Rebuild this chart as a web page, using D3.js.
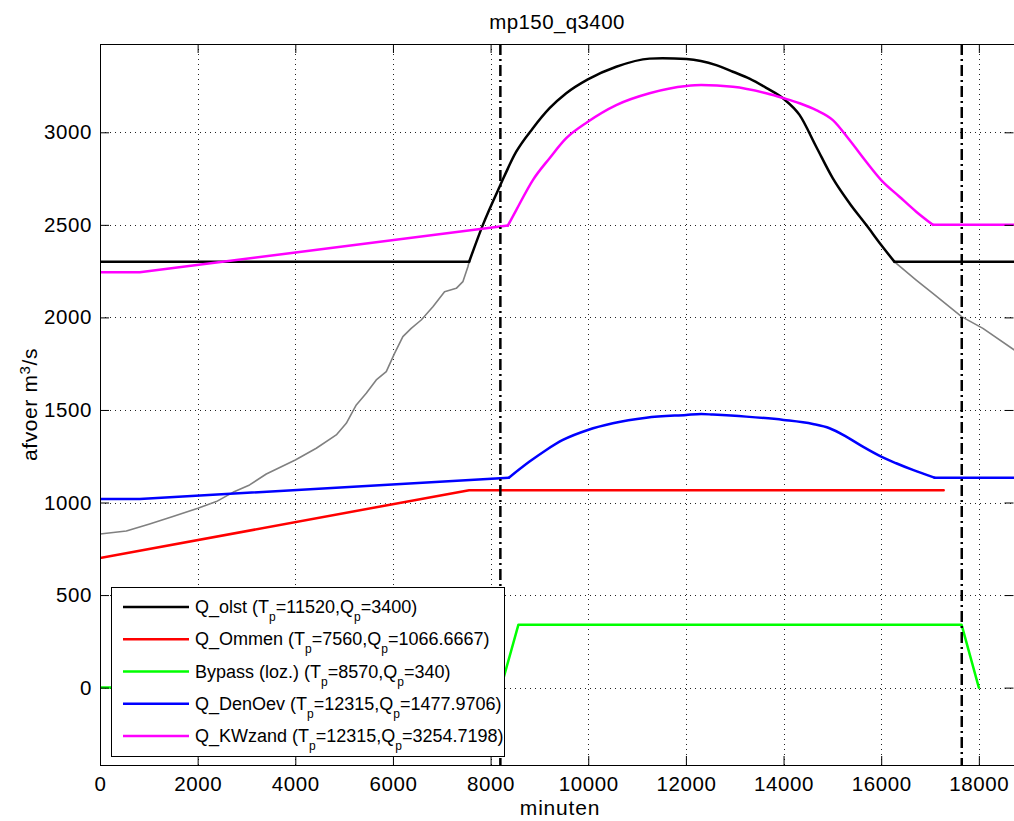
<!DOCTYPE html>
<html>
  <head>
    <meta charset="utf-8">
    <title>mp150_q3400</title>
    <script type="text/javascript" src="https://d3js.org/d3.v7.min.js"></script>
    <style media="screen">
      body { margin: 0; background: #fff; }
      text { font-family: Arial, "Liberation Sans", Helvetica, sans-serif; }
    </style>
  </head>
  <body>

    <div class="vis"></div>

    <script type="text/javascript">

      // --- data (minuten, m3/s) ---
      var xTicks = [0, 2000, 4000, 6000, 8000, 10000, 12000, 14000, 16000, 18000];
      var yTicks = [0, 500, 1000, 1500, 2000, 2500, 3000];

      var qOlst = [[0,2300],[7560,2300],[7842,2500],[8184,2706],[8525,2895],[8866,3022],[9208,3130],
        [9549,3211],[9992,3286],[10573,3354],[11255,3398],[11520,3400],[12013,3396],[12621,3363],
        [12962,3327],[13303,3290],[13645,3240],[14006,3180],[14327,3094],[14669,2922],[15010,2751],
        [15351,2617],[15693,2500],[16000,2391],[16273,2300],[18720,2300]];

      // unclipped hydrograph (grey), visible before and after the plateau
      var hydroRise = [[0,830],[539,846],[1016,884],[1493,924],[2005,969],[2382,1005],[2723,1055],
        [3064,1095],[3406,1154],[4000,1230],[4430,1293],[4839,1365],[5044,1428],[5249,1527],
        [5453,1590],[5658,1662],[5863,1707],[6033,1806],[6203,1896],[6374,1941],[6579,1986],
        [6818,2058],[7057,2139],[7297,2157],[7432,2193],[7535,2274],[7560,2300]];
      var hydroFall = [[16273,2300],[16717,2202],[17058,2130],[17646,2004],[18083,1941],[18720,1825]];

      var qOmmen = [[0,700],[7560,1066.67],[17280,1066.67]];

      var bypass = [[0,0],[8210,0],[8570,340],[17646,340],[18000,0]];

      var qDenOev = [[0,1019],[814,1019],[8374,1134],[8798,1221],[9140,1284],[9480,1338],[9992,1392],
        [10504,1428],[11188,1458],[12006,1473],[12315,1478],[12551,1475],[13235,1464],[14000,1446],
        [14600,1424],[14942,1401],[15283,1356],[15624,1302],[16000,1248],[16307,1212],[16648,1176],
        [17092,1134],[18720,1134]];

      var qKWzand = [[0,2244],[814,2244],[8354,2496],[8525,2580],[8866,2742],[9208,2860],[9549,2968],
        [9992,3057],[10573,3147],[11255,3211],[12013,3250],[12315,3255],[12962,3246],[13645,3211],
        [14006,3184],[14327,3157],[14669,3120],[15010,3066],[15351,2958],[15693,2841],[16000,2742],
        [16375,2652],[16717,2571],[17058,2500],[18720,2500]];

      var markers = [8200, 17650];

      var legendNames = ["Q_olst", "Q_Ommen", "Bypass (loz.)", "Q_DenOev", "Q_KWzand"];
      var legendTp = ["11520", "7560", "8570", "12315", "12315"];
      var legendQp = ["3400", "1066.6667", "340", "1477.9706", "3254.7198"];
      var legendColors = ["#000000", "#ff0000", "#00ff00", "#0000ff", "#ff00ff"];

      // --- layout ---  ("top" is taken on window, so pTop etc.)
      var w = 1014;
      var h = 821;
      var pLeft = 100, pRight = 1014, pTop = 44, pBottom = 765;

      var xscale = d3.scaleLinear().domain([0, 18720]).range([pLeft, pRight]);
      var yscale = d3.scaleLinear().domain([-418, 3477]).range([pBottom, pTop]);

      var svg = d3.select('.vis')
        .append('svg')
        .attr('width', w)
        .attr('height', h);

      svg.append('rect')
        .attr('x', 0).attr('y', 0).attr('width', w).attr('height', h)
        .attr('fill', '#fff');

      svg.append('clipPath').attr('id', 'plotclip')
        .append('rect')
        .attr('x', pLeft).attr('y', pTop)
        .attr('width', pRight - pLeft).attr('height', pBottom - pTop);

      // grid
      var grid = svg.append('g').attr('class', 'grid');
      grid.selectAll('line.gx')
        .data(xTicks.slice(1))
        .enter()
        .append('line')
        .attr('x1', function(d){ return Math.round(xscale(d)) + 0.5; })
        .attr('x2', function(d){ return Math.round(xscale(d)) + 0.5; })
        .attr('y1', pTop).attr('y2', pBottom)
        .attr('stroke', '#222').attr('stroke-width', 1)
        .attr('stroke-dasharray', '1,4');
      grid.selectAll('line.gy')
        .data(yTicks)
        .enter()
        .append('line')
        .attr('y1', function(d){ return Math.round(yscale(d)) + 0.5; })
        .attr('y2', function(d){ return Math.round(yscale(d)) + 0.5; })
        .attr('x1', pLeft).attr('x2', pRight)
        .attr('stroke', '#222').attr('stroke-width', 1)
        .attr('stroke-dasharray', '1,4');

      var line = d3.line()
        .x(function(d){ return xscale(d[0]); })
        .y(function(d){ return yscale(d[1]); });
      var smooth = d3.line()
        .curve(d3.curveMonotoneX)
        .x(function(d){ return xscale(d[0]); })
        .y(function(d){ return yscale(d[1]); });

      var plot = svg.append('g').attr('clip-path', 'url(#plotclip)');

      // straight parts drawn as polylines, the rounded part (from..to) smoothed
      function drawSeries(data, color, width, from, to) {
        var parts = [[data, line]];
        if (from !== undefined) {
          parts = [
            [data.filter(function(d){ return d[0] <= from; }), line],
            [data.filter(function(d){ return d[0] >= from && d[0] <= to; }), smooth],
            [data.filter(function(d){ return d[0] >= to; }), line]
          ];
        }
        parts.forEach(function(p) {
          plot.append('path')
            .datum(p[0])
            .attr('d', p[1])
            .attr('fill', 'none')
            .attr('stroke', color)
            .attr('stroke-width', width)
            .attr('stroke-linejoin', 'round')
            .attr('stroke-linecap', 'round');
        });
      }

      drawSeries(hydroRise, '#808080', 1.6);
      drawSeries(hydroFall, '#808080', 1.6);
      drawSeries(qOlst, '#000000', 2.5, 7560, 16273);
      drawSeries(qOmmen, '#ff0000', 2.5);
      drawSeries(bypass, '#00ff00', 2.5);
      drawSeries(qDenOev, '#0000ff', 2.5, 8374, 17092);
      drawSeries(qKWzand, '#ff00ff', 2.5, 8354, 17058);

      // dash-dot markers
      plot.selectAll('line.mark')
        .data(markers)
        .enter()
        .append('line')
        .attr('x1', function(d){ return xscale(d); })
        .attr('x2', function(d){ return xscale(d); })
        .attr('y1', pTop).attr('y2', pBottom)
        .attr('stroke', '#000')
        .attr('stroke-width', 2.5)
        .attr('stroke-dasharray', '11,4,2,4');

      // axes (matlab style: ticks inside, box all round)
      var tickLen = 9;
      var fmt = d3.format('d');
      var xAxis = d3.axisBottom(xscale).tickValues(xTicks).tickSize(-tickLen).tickPadding(11).tickFormat(fmt);
      var xAxisTop = d3.axisTop(xscale).tickValues(xTicks).tickSize(-tickLen).tickFormat('');
      var yAxis = d3.axisLeft(yscale).tickValues(yTicks).tickSize(-tickLen).tickPadding(8).tickFormat(fmt);
      var yAxisRight = d3.axisRight(yscale).tickValues(yTicks).tickSize(-tickLen).tickFormat('');

      svg.append('g').attr('class', 'x axis')
        .attr('transform', 'translate(0,' + pBottom + ')')
        .call(xAxis);
      svg.append('g').attr('class', 'x axis')
        .attr('transform', 'translate(0,' + pTop + ')')
        .call(xAxisTop);
      svg.append('g').attr('class', 'y axis')
        .attr('transform', 'translate(' + pLeft + ',0)')
        .call(yAxis);
      svg.append('g').attr('class', 'y axis')
        .attr('transform', 'translate(' + (pRight - 0.5) + ',0)')
        .call(yAxisRight);

      svg.selectAll('.axis line').attr('stroke', '#000').attr('stroke-width', 1);
      svg.selectAll('.axis text')
        .attr('fill', '#000')
        .style('font-size', '20.5px')
        .style('letter-spacing', '0.6px')
        .style('font-family', 'Arial, "Liberation Sans", sans-serif');
      svg.selectAll('.axis .domain').remove();

      // frame
      svg.append('rect')
        .attr('x', pLeft + 0.5).attr('y', pTop + 0.5)
        .attr('width', pRight - pLeft).attr('height', pBottom - pTop)
        .attr('fill', 'none').attr('stroke', '#000').attr('stroke-width', 1);

      // labels
      svg.append('text')
        .attr('x', (pLeft + pRight) / 2).attr('y', 29)
        .attr('text-anchor', 'middle')
        .style('font-size', '20.5px')
        .style('letter-spacing', '0.4px')
        .text('mp150_q3400');

      svg.append('text')
        .attr('x', (pLeft + pRight) / 2 + 3).attr('y', 815)
        .attr('text-anchor', 'middle')
        .style('font-size', '21px')
        .style('letter-spacing', '0.8px')
        .text('minuten');

      var ylab = svg.append('text')
        .attr('transform', 'translate(37,' + ((pTop + pBottom) / 2) + ')rotate(-90)')
        .attr('text-anchor', 'middle')
        .style('font-size', '21px')
        .style('letter-spacing', '0.6px');
      ylab.append('tspan').text('afvoer m');
      ylab.append('tspan').attr('baseline-shift', '45%').style('font-size', '15px').text('3');
      ylab.append('tspan').text('/s');

      // legend
      var lx = 111, ly = 587, lw = 393, lh = 169;
      var legend = svg.append('g').attr('class', 'legend');
      legend.append('rect')
        .attr('x', lx + 0.5).attr('y', ly + 0.5)
        .attr('width', lw).attr('height', lh)
        .attr('fill', '#fff').attr('stroke', '#000').attr('stroke-width', 1);

      var rowY = d3.scaleLinear().domain([0, 4]).range([607, 736]);

      legendNames.forEach(function(name, i) {
        var y = rowY(i);
        legend.append('line')
          .attr('x1', 123).attr('x2', 189)
          .attr('y1', y).attr('y2', y)
          .attr('stroke', legendColors[i])
          .attr('stroke-width', 2.5);
        var t = legend.append('text')
          .attr('x', 195).attr('y', y + 6)
          .style('font-size', '18px');
        t.append('tspan').text(name + ' (T');
        t.append('tspan').attr('dy', 8).style('font-size', '12px').text('p');
        t.append('tspan').attr('dy', -8).text('=' + legendTp[i] + ',Q');
        t.append('tspan').attr('dy', 8).style('font-size', '12px').text('p');
        t.append('tspan').attr('dy', -8).text('=' + legendQp[i] + ')');
      });

    </script>

  </body>
</html>
